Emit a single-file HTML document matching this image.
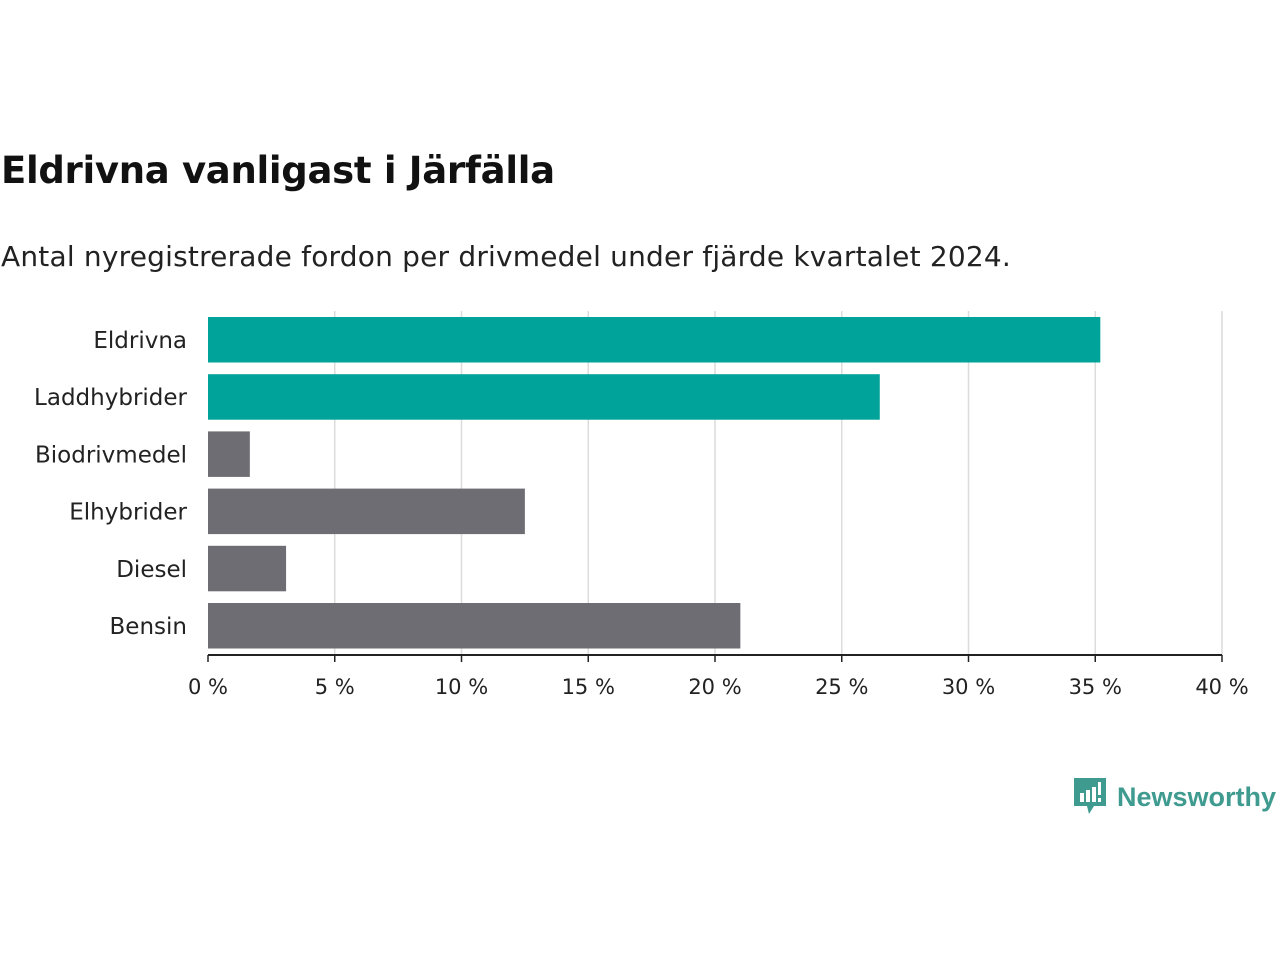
<!DOCTYPE html>
<html><head><meta charset="utf-8"><style>
body{margin:0;width:1280px;height:960px;background:#fff;font-family:"DejaVu Sans","Liberation Sans",sans-serif;overflow:hidden;position:relative}
#title{position:absolute;left:1px;top:149px;font-size:37px;font-weight:bold;color:#111;margin:0;letter-spacing:-0.3px}
#sub{position:absolute;left:1px;top:240px;font-size:28px;color:#222;margin:0;letter-spacing:0.2px}
#logo{position:absolute;left:1072px;top:776px;display:flex;align-items:center}
</style></head><body>
<h1 id="title">Eldrivna vanligast i Järfälla</h1>
<p id="sub">Antal nyregistrerade fordon per drivmedel under fjärde kvartalet 2024.</p>
<svg id="chart" width="1280" height="960" style="position:absolute;left:0;top:0"></svg>
<div id="logo">
<svg width="36" height="42"><path d="M2 2h32v28h-12l-5 8l-2-8h-13z" fill="#3f9a8f"/><rect x="8" y="17" width="4" height="9" fill="#fff"/><rect x="14" y="14" width="4" height="12" fill="#fff"/><rect x="20" y="11" width="4" height="15" fill="#fff"/><rect x="26" y="6" width="3" height="13" fill="#fff"/><rect x="26" y="22" width="3" height="4" fill="#fff"/></svg>
<span style="font-family:'Liberation Sans',sans-serif;font-size:27px;font-weight:bold;color:#3f9a8f;margin-left:9px">Newsworthy</span>
</div>
<script>
const categories=["Eldrivna","Laddhybrider","Biodrivmedel","Elhybrider","Diesel","Bensin"];
const values=[35.2,26.5,1.65,12.5,3.08,21.0];
const highlight=[true,true,false,false,false,false];
const ticks=[0,5,10,15,20,25,30,35,40];
const svg=document.getElementById('chart');
const NS='http://www.w3.org/2000/svg';
const x0=208,x1=1222,yTop=311,band=57.2,axisY=655;
const xs=v=>x0+(v/40)*(x1-x0);
function mk(t,a){const e=document.createElementNS(NS,t);for(const k in a)e.setAttribute(k,a[k]);svg.appendChild(e);return e;}
ticks.forEach(t=>{
 if(t>0){const g=mk('line',{x1:xs(t),x2:xs(t),y1:yTop,y2:axisY,stroke:'#dcdcdc','stroke-width':1.5});
 
 }
 const tk=mk('line',{x1:xs(t),x2:xs(t),y1:axisY,y2:axisY+7,stroke:'#222','stroke-width':1.5});
 
 
 const l=mk('text',{x:xs(t),y:694,'text-anchor':'middle','font-size':21,fill:'#222'});
 l.textContent=t+' %';
 
 
});
categories.forEach((c,i)=>{
 const y=yTop+6+i*band;
 const r=mk('rect',{x:x0,y:y,width:xs(values[i])-x0,height:45.5,fill:highlight[i]?'#00a39a':'#6e6d73'});
 
 
 const t=mk('text',{x:187,y:y+31,'text-anchor':'end','font-size':23,fill:'#222'});
 t.textContent=c;
 
 
});
const ax=mk('line',{x1:x0,x2:x1,y1:axisY,y2:axisY,stroke:'#222','stroke-width':2});


</script>
</body></html>
